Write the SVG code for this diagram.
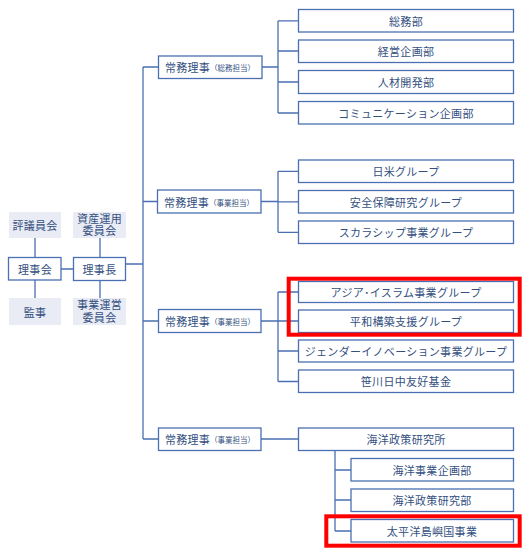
<svg xmlns="http://www.w3.org/2000/svg" width="527" height="558" viewBox="0 0 527 558">
<style>
.b{fill:#fff;stroke:#4b6fb3;stroke-width:1.3}
.f{fill:#e9ebf5;stroke:none}
.t{font-family:"Noto Sans CJK JP","Noto Sans",sans-serif;font-size:11px;fill:#34507f;text-anchor:middle;dominant-baseline:central;letter-spacing:0.3px}
.m{font-family:"Liberation Sans","Noto Sans CJK JP",sans-serif}
.s{font-size:7.5px;letter-spacing:0}
.c{fill:none;stroke:#4b6fb3;stroke-width:1.3}
.r{fill:none;stroke:#ff0000;stroke-width:4}
</style>
<rect width="527" height="558" fill="#fff"/>
<g id="connectors">
<path class="c" d="M35 238V257.5M35 280V298M100 238V257.5M100 280.5V298M61 269H73.5M126 264H143"/>
<path class="c" d="M143 67V439M143 67H158.5M143 201.5H158M143 321H158.5M143 439H158.5"/>
<path class="c" d="M262 67H278M278 20.8V113M278 20.8H298.5M278 51H298.5M278 82H298.5M278 113H298.5"/>
<path class="c" d="M261 201.5H278M278 171.3V232.3M278 171.3H298.5M278 201.8H298.5M278 232.3H298.5"/>
<path class="c" d="M261 321H278M278 292V381.5M278 292H298.5M278 321H298.5M278 351H298.5M278 381.5H298.5"/>
<path class="c" d="M261 439H298.5M335 450.5V531M335 470H351M335 500H351M335 531H351"/>
</g>
<g id="hyogiinkai"><rect class="f" x="9" y="212" width="52" height="26"/><text class="t" x="35" y="225">評議員会</text></g>
<g id="shisan"><rect class="f" x="73" y="212" width="53" height="26"/><text class="t m" x="99.5" y="218.5">資産運用</text><text class="t m" x="99.5" y="231.3">委員会</text></g>
<g id="rijikai"><rect class="b" x="8.5" y="257.5" width="52.5" height="22.5"/><text class="t" x="35" y="269">理事会</text></g>
<g id="rijicho"><rect class="b" x="73.5" y="257.5" width="52" height="23"/><text class="t" x="99.5" y="269">理事長</text></g>
<g id="kanji"><rect class="f" x="9" y="298" width="52" height="27"/><text class="t" x="35" y="311.5">監事</text></g>
<g id="jigyo-unei"><rect class="f" x="73" y="298" width="53" height="27"/><text class="t m" x="99.5" y="305">事業運営</text><text class="t m" x="99.5" y="318">委員会</text></g>

<g id="jomu1"><rect class="b" x="158.5" y="56" width="103.5" height="22.5"/><text class="t" x="210" y="67">常務理事<tspan class="s">（総務担当）</tspan></text></g>
<g id="somu"><rect class="b" x="298.5" y="9.5" width="215" height="22.5"/><text class="t" x="406" y="20.8">総務部</text></g>
<g id="keiei"><rect class="b" x="298.5" y="40" width="215" height="22.5"/><text class="t" x="406" y="51.3">経営企画部</text></g>
<g id="jinzai"><rect class="b" x="298.5" y="70.5" width="215" height="23"/><text class="t" x="406" y="82">人材開発部</text></g>
<g id="comm"><rect class="b" x="298.5" y="101.5" width="215" height="22.5"/><text class="t" x="406" y="112.8">コミュニケーション企画部</text></g>

<g id="jomu2"><rect class="b" x="157.5" y="190" width="103.5" height="23"/><text class="t" x="209" y="201.5">常務理事<tspan class="s">（事業担当）</tspan></text></g>
<g id="nichibei"><rect class="b" x="298.5" y="160" width="215" height="22.5"/><text class="t" x="406" y="171.3">日米グループ</text></g>
<g id="anzen"><rect class="b" x="298.5" y="190.5" width="215" height="22.5"/><text class="t" x="406" y="201.8">安全保障研究グループ</text></g>
<g id="scholar"><rect class="b" x="298.5" y="221" width="215" height="22.5"/><text class="t" x="406" y="232.3">スカラシップ事業グループ</text></g>

<g id="jomu3"><rect class="b" x="158.5" y="309.5" width="102.5" height="23"/><text class="t" x="210" y="321">常務理事<tspan class="s">（事業担当）</tspan></text></g>
<g id="asia"><rect class="b" x="298.5" y="281.5" width="215" height="21"/><text class="t" x="406" y="292">アジア･イスラム事業グループ</text></g>
<g id="heiwa"><rect class="b" x="298.5" y="310" width="215" height="22.5"/><text class="t" x="406" y="321.3">平和構築支援グループ</text></g>
<g id="gender"><rect class="b" x="298.5" y="340" width="215" height="22"/><text class="t" x="406" y="351">ジェンダーイノベーション事業グループ</text></g>
<g id="sasakawa"><rect class="b" x="298.5" y="370" width="215" height="22.5"/><text class="t" x="406" y="381.3">笹川日中友好基金</text></g>

<g id="jomu4"><rect class="b" x="158.5" y="428" width="102.5" height="22.5"/><text class="t" x="210" y="439">常務理事<tspan class="s">（事業担当）</tspan></text></g>
<g id="kaiyo-ken"><rect class="b" x="298.5" y="428" width="215" height="22.5"/><text class="t" x="406" y="439">海洋政策研究所</text></g>
<g id="kaiyo-jigyo"><rect class="b" x="351" y="458.5" width="162.5" height="22.5"/><text class="t" x="432" y="469.8">海洋事業企画部</text></g>
<g id="kaiyo-seisaku"><rect class="b" x="351" y="489" width="162.5" height="22.5"/><text class="t" x="432" y="500.3">海洋政策研究部</text></g>
<g id="taiheiyo"><rect class="b" x="351" y="519.5" width="162.5" height="22.5"/><text class="t" x="432" y="530.8">太平洋島嶼国事業</text></g>

<g id="highlights">
<rect class="r" x="288.7" y="278.7" width="231" height="56"/>
<rect class="r" x="326.3" y="516.3" width="193.4" height="29.4"/>
</g>
</svg>
